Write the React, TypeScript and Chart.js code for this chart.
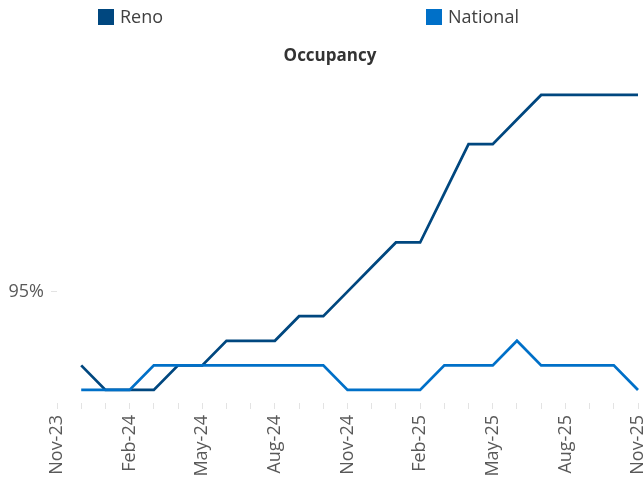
import React, { useEffect, useRef } from 'react';
import { Chart, registerables } from 'chart.js';

Chart.register(...registerables);

const months = [
  'Nov-23', 'Dec-23', 'Jan-24', 'Feb-24', 'Mar-24', 'Apr-24', 'May-24', 'Jun-24', 'Jul-24',
  'Aug-24', 'Sep-24', 'Oct-24', 'Nov-24', 'Dec-24', 'Jan-25', 'Feb-25', 'Mar-25', 'Apr-25',
  'May-25', 'Jun-25', 'Jul-25', 'Aug-25', 'Sep-25', 'Oct-25', 'Nov-25',
];

const reno: (number | null)[] = [
  null, 93.5, 93, 93, 93, 93.5, 93.5, 94, 94, 94, 94.5, 94.5, 95, 95.5, 96, 96, 97, 98, 98,
  98.5, 99, 99, 99, 99, 99,
];

const national: (number | null)[] = [
  null, 93, 93, 93, 93.5, 93.5, 93.5, 93.5, 93.5, 93.5, 93.5, 93.5, 93, 93, 93, 93, 93.5,
  93.5, 93.5, 94, 93.5, 93.5, 93.5, 93.5, 93,
];

const yTicks = [95];
const seriesNames = ['Reno', 'National'];
const seriesColors = ['#00477F', '#0070C8'];
const chartTitle = 'Occupancy';

const FONT = "'Open Sans', sans-serif";

const headerPlugin = {
  id: 'customHeader',
  afterDraw(chart: any) {
    const ctx = chart.ctx;
    const positions = [98, 426];
    ctx.save();
    ctx.font = `18px ${FONT}`;
    ctx.textBaseline = 'middle';
    ctx.textAlign = 'left';
    seriesNames.forEach((name, i) => {
      const x = positions[i];
      ctx.fillStyle = seriesColors[i];
      ctx.fillRect(x, 9, 16, 16);
      ctx.fillStyle = '#404040';
      ctx.fillText(name, x + 22, 17.5);
    });
    ctx.font = `bold 17px ${FONT}`;
    ctx.textAlign = 'center';
    ctx.fillStyle = '#333333';
    ctx.fillText(chartTitle, 330, 56);
    ctx.restore();
  },
};

export default function App() {
  const canvasRef = useRef<HTMLCanvasElement | null>(null);

  useEffect(() => {
    if (!canvasRef.current) return;
    const chart = new Chart(canvasRef.current, {
      type: 'line',
      data: {
        labels: months,
        datasets: [
          {
            label: seriesNames[0],
            data: reno,
            borderColor: seriesColors[0],
            backgroundColor: seriesColors[0],
            borderWidth: 2.75,
            pointRadius: 0,
            tension: 0,
            order: 1,
          },
          {
            label: seriesNames[1],
            data: national,
            borderColor: seriesColors[1],
            backgroundColor: seriesColors[1],
            borderWidth: 2.75,
            pointRadius: 0,
            tension: 0,
            order: 0,
          },
        ],
      },
      options: {
        animation: false,
        responsive: true,
        maintainAspectRatio: false,
        layout: { padding: { left: 0, right: 22, top: 80, bottom: 0 } },
        plugins: {
          legend: { display: false },
          tooltip: { enabled: false },
          title: { display: false },
        },
        scales: {
          x: {
            grid: { drawOnChartArea: false, drawTicks: true, tickLength: 6, color: '#e3e3e3' },
            border: { display: false },
            ticks: {
              autoSkip: false,
              maxRotation: 90,
              minRotation: 90,
              padding: 6,
              color: '#595959',
              font: { family: FONT, size: 18 },
              callback: (_v: any, i: number) => (i % 3 === 0 ? months[i] : ''),
            },
            afterFit: (s: any) => {
              s.height = 77;
              s.paddingLeft = 0;
              s.paddingRight = 0;
            },
          },
          y: {
            min: 92.735,
            max: 99.305,
            afterBuildTicks: (s: any) => {
              s.ticks = yTicks.map((v) => ({ value: v }));
            },
            grid: { drawOnChartArea: false, drawTicks: true, tickLength: 6, color: '#e3e3e3' },
            border: { display: false },
            ticks: {
              padding: 7,
              color: '#595959',
              font: { family: FONT, size: 18 },
              callback: (v: any) => `${v}%`,
            },
            afterFit: (s: any) => {
              s.width = 57;
              s.paddingTop = 0;
              s.paddingBottom = 0;
            },
          },
        },
      },
      plugins: [headerPlugin],
    });
    return () => chart.destroy();
  }, []);

  return (
    <div style={{ position: 'fixed', left: 0, top: 0, width: 644, height: 480, overflow: 'hidden', background: '#fff' }}>
      <div style={{ position: 'relative', width: 660, height: 480 }}>
        <canvas ref={canvasRef} />
      </div>
    </div>
  );
}
